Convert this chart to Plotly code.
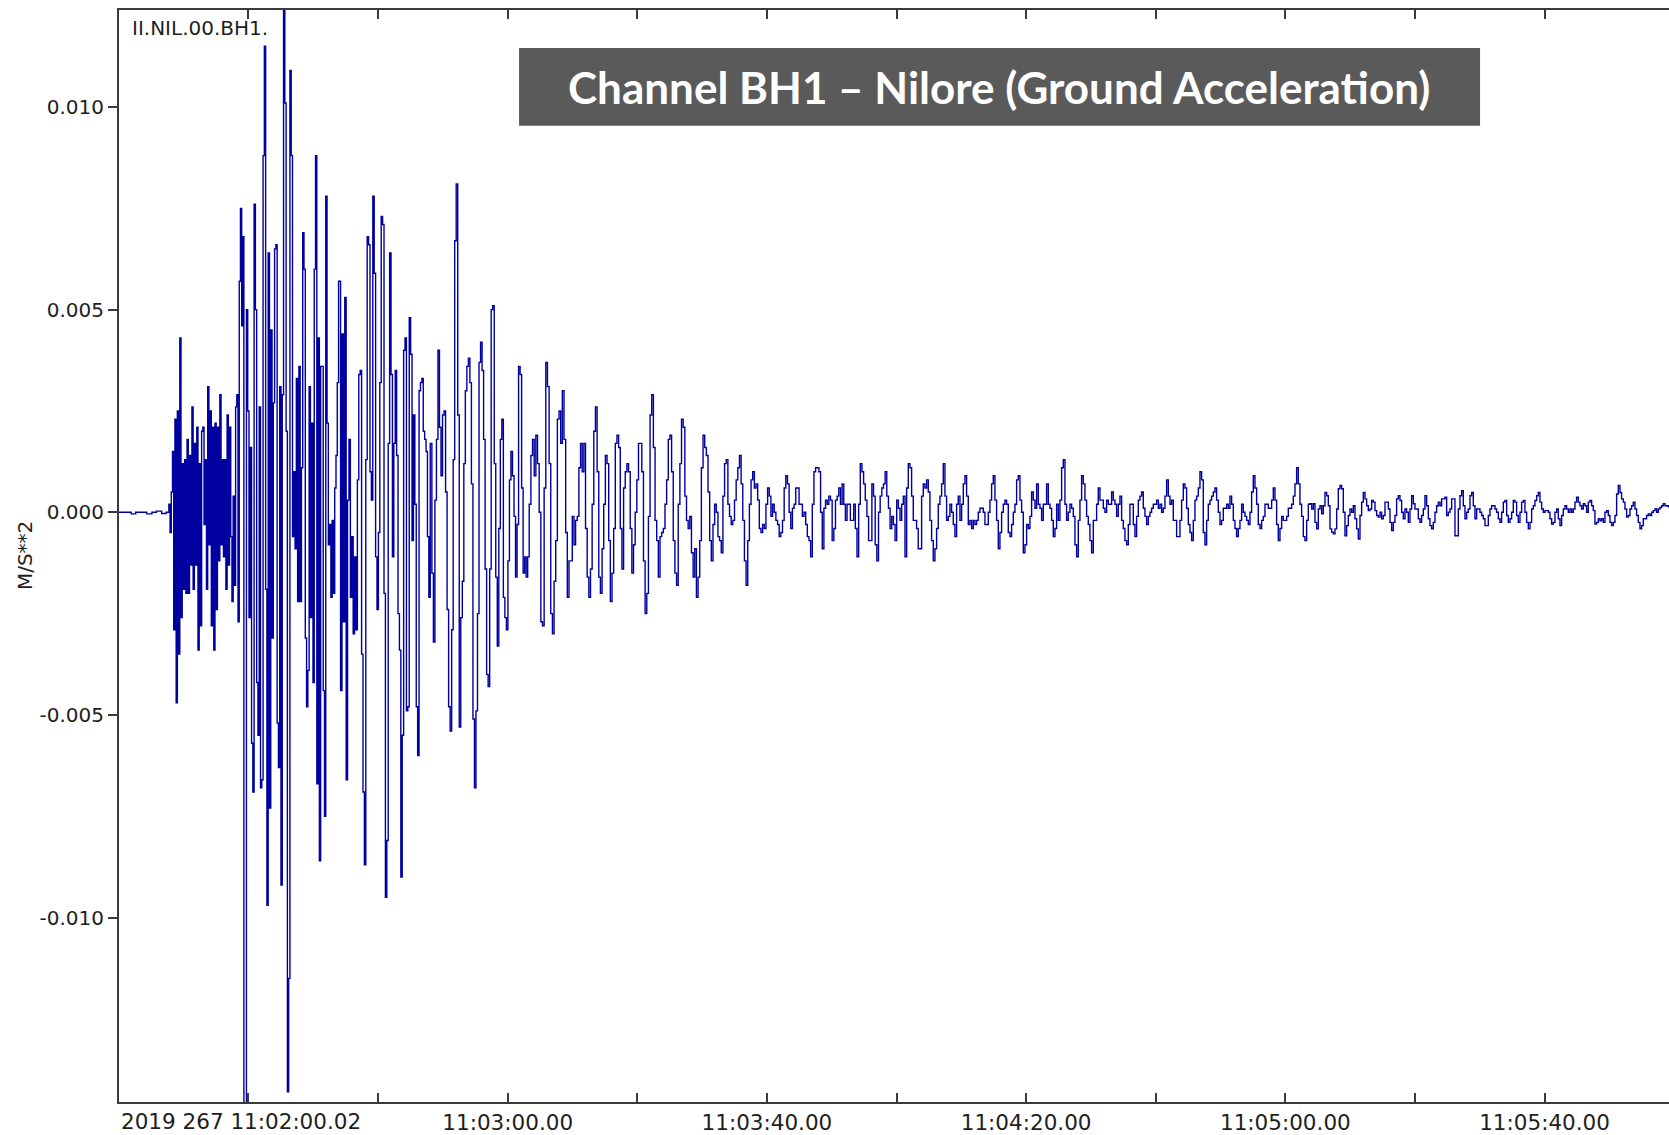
import numpy as np
import plotly.graph_objects as go

# ---------------- data (seconds after 11:02:00.00, acceleration in 1e-4 M/S**2) ----------------
SCALE = 1e-4

PRE_T = [0.02, 1.2, 1.9, 2.6, 3.4, 4.3, 5.1, 5.8, 6.6, 7.3]
PRE_V = [0.0, 0.0, -0.4, 0.0, 0.0, -0.4, 0.0, 0.3, -0.3, 0.0]

A1_SPAN = (7.715, 19.136)
A1 = [2, -5, 5, 15, -29, 23, -47, 25, -35, 43, -26, 12, -19, 13, -20, 18, -20, 14, -13, 26,
      -19, 17, -13, 21, -34, 12, -28, 20, 21, -3, 13, -19, 31, -8, 25, -28, 21, -34, 22, -24,
      21, -12, 29, -8, 13, -11, 13, -19, 24, -13, 21, -6, -22, 4, -18, 26, 29, -27, 57, 75, 46, 68]

A2_SPAN = (19.29, 33.90)
A2 = [-150, -150, 50, 25, -26, 16, -57, -69, 76, 50, -42, -55, 26, -68, -66, 88, 115, -19, -97, 64,
      -73, 45, -31, 27, 65, 66, -52, -63, 31, -92, 29, 140, 101, 20, -143, -115, 109, 88, -6, 10,
      -9, 33, -22, 36, -22, 11, 69, 60, -31, -48, -39, 31, -26, 22, -42, 60, 88, -67, 43, -86,
      36, 36, -44, -75, 78, 22, -8, -3, -21, -2, -20, 6, 14, 32, 57]

B1_SPAN = (34.21, 48.05)
B1 = [-44, 44, -27, 53, -66, 3, 18, -21, -6, -30, -11, -29, 8, 34, 35, -35, -69, -87, 13, 68,
      66, 10, 3, 78, 59, -11, -24, -5, 32, 73, 71, -20, -95, -81, 17, 64, 34, -11, 17, 35,
      14, -25, -34, -90, -55, 40, 43, -49, -48, 48, 39, -7, 24, 2, -48, -60, 30, 32, 33, 20,
      18, 15, -6, -21, 17]

B2_SPAN = (48.30, 63.32)
B2 = [-15, -32, 3, 18, 40, 21, 9, 24, 25, 5, -24, -48, -54, -29, 13, 67, 81, 24, -53, -26,
      -17, 12, 30, 36, 38, 32, 7, -51, -68, -49, -25, 37, 42, 35, 18, -14, -40, -43, -14, 50,
      51, 12, -16, -33, -4, 18, 23, -21, -26, -29, -12, 8, 15, 9, -1, -16, -3, 36, 34, 6,
      -15, -11, -16, -11, 2]

C_SPAN = (63.58, 123.35)
C = [14, 18, 9, 19, 12, 0, -27, -28, 6, 37, 31, 12, -25, -30, -17, -7, 23, 25, 17, 30,
     18, -5, -21, -12, -12, -1, -8, -2, -1, 11, 17, 10, 17, -4, -16, -21, -14, 2, 20, 26,
     10, -16, -20, -9, 2, 14, 12, -7, -22, -15, -4, 17, 19, 16, -4, -14, 6, 10, 12, 10,
     -4, -15, -8, 0, 8, 17, 17, 10, -12, -25, -20, -1, 24, 29, 16, -2, -7, -16, -6, -5,
     -4, 2, 8, 18, 19, 10, -7, -15, -18, 2, 12, 23, 21, 4, -2, -4, -1, -10, -16, -9,
     -21, -16, -7, 11, 19, 16, 14, 5, -7, -12, -3, 2, 0, -6, -7, -10, 4, 12, 13, 2,
     -1, -3, -2, 3, 8, 11, 14, 7, -2, -12, -18, -7, 2, 8, 10, 6, 7, 3, -4, -5,
     -3, -4, 2, 6, 4, -1, 2, 0, -2, -3, -6, -5, -2, 6, 9, 7, 0, -4, 1, 2,
     6, 6, 2, 2, -1, 0, -3, -6, -7, -11, 2, 10, 11, 11, 10, 0, -9, 1, 3, 2,
     4, 3, -7, -4, 3, 4, 6, 2, 7, 2, -2, 2, 2, -2, -2, 2, -4, -11, 2, 12,
     10, 7, 3, -1, -7, -7, 7, 4, -8, -12, 0, 4, 6, 7, 10, 4, 1, -4, -1, -3,
     -7, 3, 1, -2, 2, 4, -11, 6, 12, 11, 4, -2, -2, -4, -9]

D_SPAN = (123.87, 183.54)
D = [4, 7, 6, 8, 5, -2, -7, -12, -9, -4, 2, 4, 7, 12, 4, -2, -1, 2, 0, -3,
     -6, 2, 4, -2, 2, 7, 9, 4, -3, -2, -4, -2, -3, -2, 0, 1, 1, 0, -3, -3,
     0, 3, 7, 9, 3, -2, -9, -5, 0, 2, 3, 2, -5, -6, -3, 0, 2, 8, 9, 3,
     0, -10, -8, -3, -4, -1, 5, 3, 1, 7, 2, 1, -2, 2, 2, 7, 2, 1, -2, -6,
     -4, 2, -2, 3, 11, 13, 2, -2, 0, 2, 1, -1, -8, -11, -2, 3, 9, 7, 3, -1,
     -3, -7, -10, -2, -2, 2, 6, 3, 3, 1, 0, 3, 2, 2, 5, 3, 2, -1, 2, 4,
     -2, -4, -7, -8, -3, 2, 2, -3, -6, -1, 3, 4, 5, 1, -1, -3, -1, 0, 1, 2,
     2, 3, 1, 2, 0, 1, 4, 8, 4, 2, 3, -2, -2, -6, -6, -2, 3, 7, 6, 1,
     -3, -5, -7, -2, 3, 4, 6, 10, 8, -5, -8, -2, 2, 3, 4, 5, 6, 3, 0, -3,
     -2, 1, 1, 2, 1, 4, 2, -2, -4, -6, -4, -2, 2, 0, -1, -2, -3, 0, 5, 9,
     6, 2, -3, -4, -2, -1, 2, 2, 1, 1, 3, 6, 3, -3, -7, -4, -1, -2, -2, -1,
     1, 1, 2, 4, 7, 11, 7, 2, -1, -6, -7, -2, 2]

E_SPAN = (183.80, 239.09)
E = [2.1, 0.8, 2.1, -2.5, -4.1, 0.8, 1.6, -0.4, 1.6, 4.9, 4.1, 1.6, -4.1, -4.9, -5.3, -4.1, 0.8, 5.8, 6.6, 5.8,
     0, -5.8, -3.3, -0.8, 0.8, 0, 1.6, -1.6, -4.1, -6.6, -0.8, 2.5, 4.9, 3.3, 1.6, 0.4, 0.8, 2.9, 2.5, 0.4,
     -0.8, -1.2, 0, -1.6, -0.8, 2.5, 2.5, 0.8, -2.5, -4.5, -2.5, -0.8, 3.3, 4.1, 2.9, 0, -1.6, 0.8, 0, -2.5,
     0.8, 4.1, 2.1, 0.8, 0.8, -1.6, -2.5, -0.8, 0.8, 4.1, 1.6, -1.6, -3.3, -4.1, -2.5, 0, 1.6, 2.5, 1.6, 3.3,
     3.3, 3.7, -0.8, 0, 0.8, 3.3, 3.3, -5.8, -5.8, 0.8, 4.1, 5.3, 1.6, -1.6, 0, 0.8, 4.1, 4.9, 1.6, -1.6,
     0.8, 0.8, 0, -0.8, -1.6, -3.3, -3.3, -0.8, 0.8, 1.6, 1.6, 0.8, 0, -1.6, -2.5, 0, 2.5, 2.9, -0.8, -2.5,
     -1.6, 0, 2.9, 2.5, -0.8, -2.5, 0, 2.5, 2.9, 0, -2.5, -4.1, -2.5, 0.8, 1.6, 2.9, 4.1, 4.9, 2.5, 0.8,
     0, 0.4, 0.4, 0, -1.6, -2.9, -2.5, 0, 0.8, -1.6, -3.3, -0.8, 0.8, 1.6, 0.8, 0, 0.8, 0, 0.8, 2.5,
     3.7, 2.5, 1.6, 0.8, 2.1, 1.6, 0, 2.5, 2.9, 1.6, 0.4, -2.9, -2.5, -1.6, -2.1, -1.6, -2.5, 0, 0.4, -0.8,
     -2.5, -3.3, -2.5, -0.8, 4.5, 6.6, 4.9, 3.3, 2.5, 0.8, -1.2, -0.8, 0.8, 1.6, 2.5, 0.8, -0.8, -2.5, -4.1, -3.3,
     -1.6, -1.6, -0.8, -0.4, -0.8, 0, 0.4, 0.8, 0, 0.8, 1.2, 1.6, 2.1, 1.6, 1.6, 1.2]

X_TICK_VALS = [20, 40, 60, 80, 100, 120, 140, 160, 180, 200, 220]
X_TICK_TEXT = ["", "", "11:03:00.00", "", "11:03:40.00", "", "11:04:20.00", "", "11:05:00.00", "", "11:05:40.00"]
START_LABEL = "2019 267 11:02:00.02"
Y_TICK_VALS = [0.010, 0.005, 0.0, -0.005, -0.010]
Y_TICK_TEXT = ["0.010", "0.005", "0.000", "-0.005", "-0.010"]
STATION = "II.NIL.00.BH1."
UNITS = "M/S**2"
TITLE = "Channel BH1 \u2013 Nilore (Ground Acceleration)"

# ---------------- assemble the trace ----------------
segments = [(A1_SPAN, A1), (A2_SPAN, A2), (B1_SPAN, B1), (B2_SPAN, B2),
            (C_SPAN, C), (D_SPAN, D), (E_SPAN, E)]
t_parts = [np.array(PRE_T, dtype=float)]
v_parts = [np.array(PRE_V, dtype=float)]
for (t0, t1), vals in segments:
    t_parts.append(np.linspace(t0, t1, len(vals)))
    v_parts.append(np.array(vals, dtype=float))
t = np.concatenate(t_parts)
v = np.concatenate(v_parts) * SCALE

TICK_FONT = dict(family="DejaVu Sans", size=20, color="#1e1e1e")
XTICK_FONT = dict(family="DejaVu Sans", size=21.5, color="#1e1e1e")
AXIS_COL = "#3a3a3a"

fig = go.Figure()
fig.add_trace(go.Scatter(x=t, y=v, mode="lines",
                         line=dict(color="#0000a0", width=1.4, shape="hv"),
                         hoverinfo="skip", showlegend=False))

fig.update_layout(
    width=1669, height=1135,
    margin=dict(l=119, r=0, t=10, b=31),
    paper_bgcolor="white", plot_bgcolor="white",
    showlegend=False,
    xaxis=dict(range=[0.02, 239.2], showgrid=False, zeroline=False,
               showline=True, linecolor=AXIS_COL, linewidth=2, mirror="ticks",
               ticks="inside", ticklen=9, tickwidth=1.5, tickcolor=AXIS_COL,
               tickvals=X_TICK_VALS, ticktext=X_TICK_TEXT, tickfont=XTICK_FONT),
    yaxis=dict(range=[-0.014551, 0.012394], showgrid=False, zeroline=False,
               showline=True, linecolor=AXIS_COL, linewidth=2, mirror=False,
               ticks="outside", ticklen=9, tickwidth=1.5, tickcolor=AXIS_COL,
               tickvals=Y_TICK_VALS, ticktext=Y_TICK_TEXT, tickfont=TICK_FONT),
)

fig.add_shape(type="rect", xref="paper", yref="paper",
              x0=0.2581, x1=0.8781, y0=0.894, y1=0.9653,
              fillcolor="#5a5a5a", line=dict(width=0), layer="above")

fig.add_annotation(text="<b>" + TITLE + "</b>", xref="paper", yref="paper",
                   x=0.568, y=0.9296, xanchor="center", yanchor="middle",
                   showarrow=False, font=dict(family="Lato", size=44, color="white"))

fig.add_annotation(text=STATION, xref="paper", yref="paper",
                   x=0.0071, y=0.9831, xanchor="left", yanchor="middle",
                   showarrow=False, font=TICK_FONT)

fig.add_annotation(text=START_LABEL, xref="paper", yref="paper",
                   x=0.0, y=0.0, xanchor="left", yanchor="top", yshift=-5,
                   showarrow=False, font=XTICK_FONT)

fig.add_annotation(text=UNITS, xref="paper", yref="paper",
                   x=-0.0606, y=0.5, xanchor="center", yanchor="middle",
                   textangle=-90, showarrow=False, font=TICK_FONT)

fig.write_html("out.html")
